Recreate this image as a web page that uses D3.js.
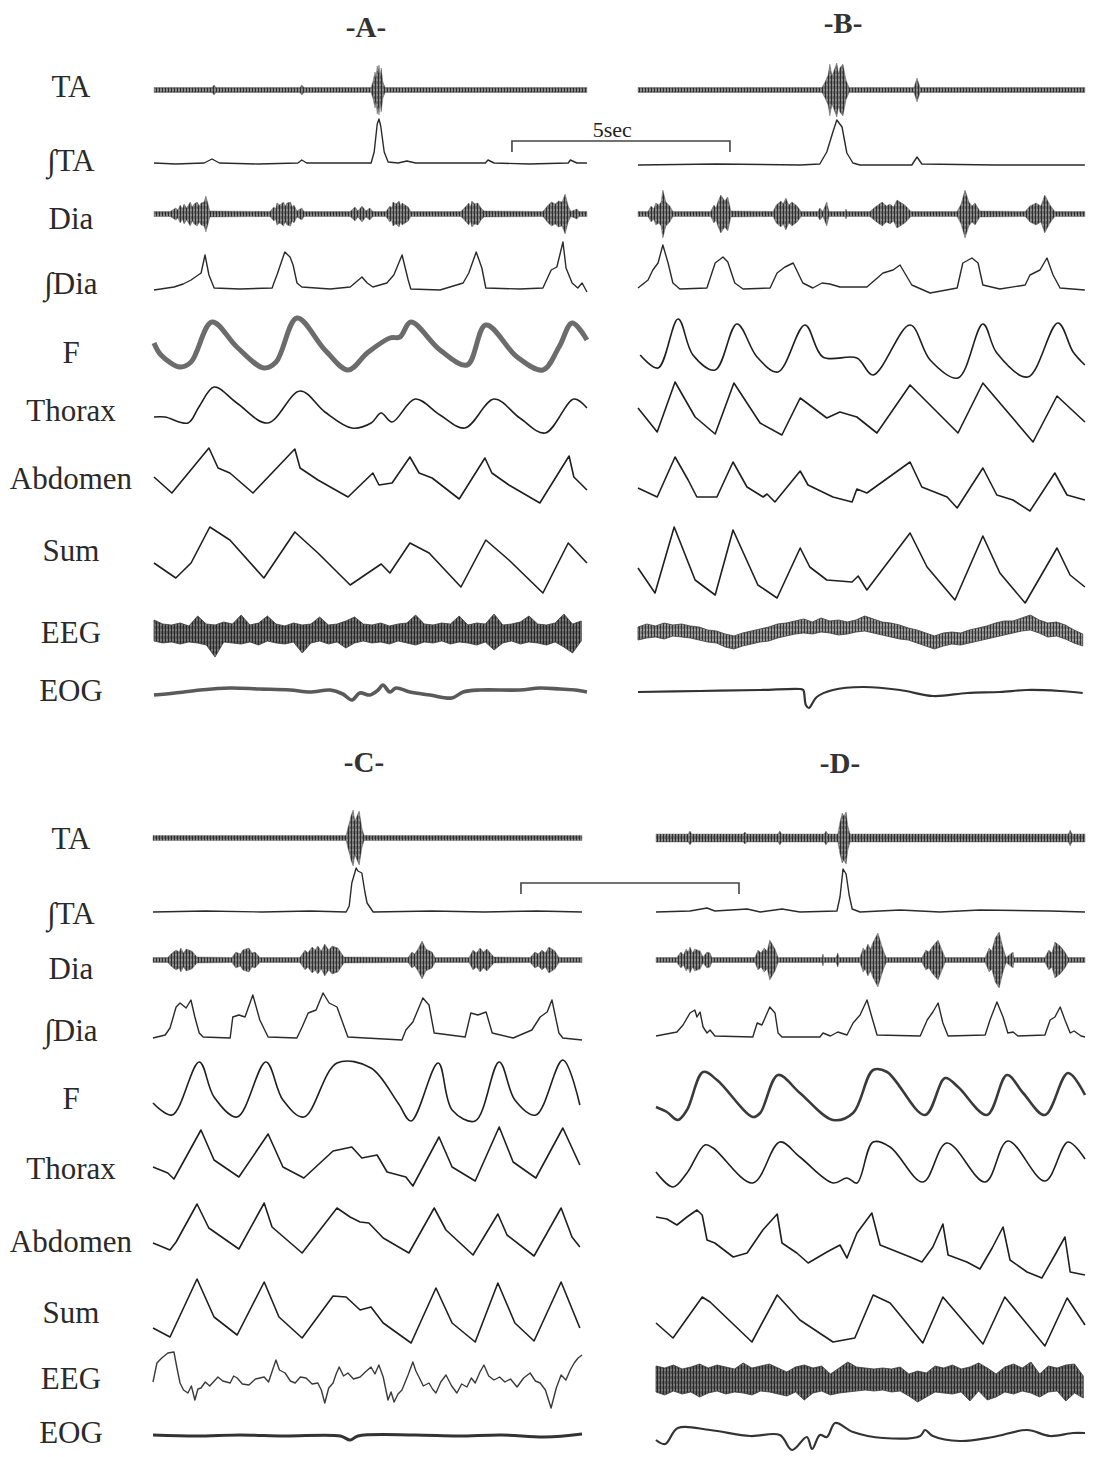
<!DOCTYPE html>
<html>
<head>
<meta charset="utf-8">
<script src="https://cdn.jsdelivr.net/npm/d3@7"></script>
<style>
  body { margin: 0; background: #fff; }
  text { font-family: "Liberation Serif", "Times New Roman", serif; fill: #222; }
</style>
</head>
<body>
<svg id="chart" width="1094" height="1457"></svg>
<script>
// trace names, shown left of panels A and C
const traceNames = ["TA", "∫TA", "Dia", "∫Dia", "F", "Thorax", "Abdomen", "Sum", "EEG", "EOG"];
const panelNames = ["A", "B", "C", "D"];
// recording length of each panel, seconds
const durations = [9.93, 10.25, 9.84, 9.84];
const scaleBarSec = 5;

// ---- panel A ---- raw EMG: [t (s), half amplitude]; others: [t (s), amplitude]
const taA = [[0,2.5],[1.33,2.5],[1.38,5],[1.42,2.5],[3.35,2.5],[3.39,5],[3.44,2.5],[4.98,2.5],[5.02,8],[5.07,18],[5.09,12],[5.12,24],[5.14,17],[5.16,25],[5.19,14],[5.21,22],[5.25,8],[5.3,2.5],[9.93,2.5]];
const itaA = [[0,1],[0.5,0],[1.15,1],[1.33,5],[1.5,1],[2.4,0],[3.3,1],[3.39,4],[3.5,1],[4.98,1],[5.05,12],[5.12,40],[5.16,45],[5.2,38],[5.28,12],[5.37,2],[5.6,1],[5.8,3],[6.0,1],[7.6,1],[7.66,4],[7.8,1],[8.6,0],[9.5,1],[9.55,4],[9.7,1],[9.93,1]];
const diaA = [[0,2.5],[0.37,2.5],[0.5,6],[0.55,4],[0.6,9],[0.65,5],[0.69,10],[0.75,6],[0.83,12],[0.88,7],[0.92,10],[0.99,12],[1.04,8],[1.08,11],[1.15,12],[1.19,18],[1.24,10],[1.28,3],[2.66,2.5],[2.75,7],[2.79,5],[2.82,11],[2.89,9],[2.97,12],[3.01,8],[3.05,11],[3.13,12],[3.17,7],[3.21,9],[3.28,3],[3.39,6],[3.44,2.5],[4.5,2.5],[4.61,7],[4.68,3],[4.77,8],[4.86,3],[4.95,6],[5.02,2.5],[5.32,2.5],[5.41,8],[5.45,6],[5.48,12],[5.55,10],[5.62,13],[5.66,8],[5.69,11],[5.83,7],[5.89,2.5],[7.04,2.5],[7.16,8],[7.22,11],[7.26,7],[7.29,13],[7.36,10],[7.43,11],[7.5,6],[7.57,3],[8.92,2.5],[9.04,9],[9.12,12],[9.2,10],[9.28,13],[9.36,12],[9.43,20],[9.5,8],[9.56,2.5],[9.7,5],[9.75,2.5],[9.93,2.5]];
const idiaA = [[0,0],[0.46,3],[0.67,6],[0.85,10],[1.08,17],[1.17,35],[1.26,15],[1.38,2],[1.97,1],[2.71,2],[2.75,7],[2.82,15],[3.0,38],[3.12,33],[3.19,25],[3.28,7],[3.39,3],[4.04,1],[4.5,3],[4.77,13],[4.89,7],[5.02,3],[5.18,5],[5.34,7],[5.5,15],[5.69,35],[5.83,10],[5.89,1],[6.56,0],[7.09,7],[7.22,17],[7.39,38],[7.52,22],[7.61,2],[8.39,1],[8.92,2],[9.11,20],[9.24,23],[9.38,48],[9.45,22],[9.59,7],[9.72,2],[9.82,7],[9.93,-2]];
const fA = [[0,27],[0.16,15],[0.6,3],[0.85,8],[1.33,48],[1.9,23],[2.52,2],[2.8,8],[3.28,52],[3.92,20],[4.45,0],[4.89,17],[5.41,32],[5.64,33],[5.89,48],[6.56,20],[7.18,5],[7.61,45],[8.33,13],[8.92,0],[9.29,23],[9.59,47],[9.93,30]];
const thoraxA = [[0,13],[0.25,13],[0.78,7],[1.03,23],[1.38,43],[1.9,27],[2.61,7],[3.35,39],[3.92,18],[4.54,2],[4.98,7],[5.21,17],[5.46,8],[5.99,31],[6.56,15],[7.13,2],[7.8,31],[8.39,12],[8.97,-3],[9.63,31],[9.93,22]];
const abdomenA = [[0,23],[0.41,7],[1.26,52],[1.47,32],[1.74,27],[2.27,7],[3.23,51],[3.35,32],[3.76,20],[4.45,3],[5.02,27],[5.16,15],[5.46,17],[5.87,43],[6.08,27],[6.38,22],[7.0,1],[7.59,42],[7.75,27],[8.14,15],[8.85,-3],[9.52,44],[9.63,23],[9.93,10]];
const sumA = [[0,27],[0.5,12],[0.85,27],[1.28,63],[1.74,50],[2.52,12],[3.23,58],[3.76,37],[4.5,5],[5.21,26],[5.41,17],[5.87,47],[6.31,37],[7.04,3],[7.61,50],[8.14,30],[8.92,-3],[9.5,47],[9.93,27]];
// EEG sampled every 0.2 s: [high, low]
const eegA = [[13,-8],[9,-10],[8,-9],[10,-11],[7,-9],[17,-10],[9,-12],[8,-24],[11,-9],[9,-10],
  [18,-11],[8,-9],[10,-12],[17,-8],[9,-10],[7,-11],[10,-9],[8,-20],[9,-10],[16,-8],
  [8,-11],[9,-9],[12,-15],[16,-10],[9,-8],[8,-10],[10,-9],[7,-11],[9,-8],[10,-10],
  [18,-12],[9,-9],[8,-10],[10,-8],[9,-11],[17,-9],[8,-10],[10,-12],[9,-9],[19,-17],
  [8,-10],[9,-8],[11,-11],[17,-9],[9,-10],[8,-12],[10,-9],[19,-14],[9,-20],[12,-8]];
const eogA = [[0,-5],[0.48,-3],[1.06,0],[1.74,2],[2.43,1],[3.12,0],[3.58,-2],[4.04,0],[4.33,-4],[4.54,-10],[4.72,-3],[4.95,-5],[5.14,0],[5.25,5],[5.41,-2],[5.55,2],[5.87,-2],[6.33,-5],[6.83,-8],[7.09,-2],[7.48,0],[8.39,0],[8.85,2],[9.31,1],[9.66,0],[9.93,-2]];

// ---- panel B ----
const taB = [[0,2.5],[4.22,2.5],[4.29,8],[4.36,15],[4.4,26],[4.45,14],[4.5,20],[4.56,27],[4.6,16],[4.63,22],[4.7,26],[4.77,10],[4.84,2.5],[6.33,2.5],[6.4,12],[6.47,2.5],[10.25,2.5]];
const itaB = [[0,-1],[1.8,0],[3.72,-1],[4.17,0],[4.33,12],[4.47,32],[4.56,44],[4.68,37],[4.79,11],[4.93,1],[5.09,-1],[6.28,-1],[6.4,7],[6.51,0],[8.2,-1],[10.25,-1]];
const diaB = [[0,2.5],[0.23,2.5],[0.3,8],[0.36,5],[0.41,11],[0.48,9],[0.53,12],[0.57,24],[0.64,12],[0.73,8],[0.8,2.5],[1.67,2.5],[1.74,9],[1.79,6],[1.83,12],[1.9,19],[1.99,13],[2.06,17],[2.13,3],[3.1,2.5],[3.17,9],[3.28,13],[3.33,10],[3.39,16],[3.46,9],[3.53,12],[3.65,8],[3.74,2.5],[4.13,2.5],[4.17,6],[4.24,2.5],[4.33,12],[4.38,2.5],[4.75,2.5],[4.77,5],[4.79,2.5],[5.32,2.5],[5.44,7],[5.6,12],[5.7,8],[5.78,10],[5.86,7],[5.94,14],[6.12,9],[6.26,2.5],[7.32,2.5],[7.41,10],[7.5,24],[7.59,12],[7.66,8],[7.73,11],[7.84,3],[8.88,2.5],[8.99,8],[9.13,11],[9.24,8],[9.33,19],[9.45,9],[9.56,2.5],[10.25,2.5]];
const idiaB = [[0,2],[0.23,10],[0.34,20],[0.46,27],[0.57,45],[0.69,27],[0.8,7],[0.96,1],[1.58,2],[1.77,27],[1.95,33],[2.06,28],[2.22,7],[2.41,1],[3.03,2],[3.19,17],[3.37,23],[3.56,27],[3.78,7],[4.01,2],[4.22,7],[4.4,6],[4.63,3],[5.25,3],[5.62,17],[5.85,20],[6.01,25],[6.28,5],[6.7,-3],[7.32,2],[7.45,27],[7.66,32],[7.8,27],[7.91,5],[8.3,1],[8.88,5],[8.99,15],[9.22,20],[9.38,32],[9.52,15],[9.68,2],[10.25,0]];
const fB = [[0.05,15],[0.46,2],[0.92,51],[1.26,15],[1.77,0],[2.27,46],[2.73,13],[3.21,-2],[3.83,45],[4.24,13],[5.02,12],[5.39,-5],[6.24,45],[6.7,10],[7.34,-8],[7.91,46],[8.23,17],[8.94,-7],[9.63,47],[9.98,18],[10.25,5]];
const thoraxB = [[0,22],[0.44,-2],[0.85,48],[1.31,13],[1.77,-4],[2.2,47],[2.8,7],[3.3,-5],[3.72,32],[4.33,12],[4.63,18],[5.02,13],[5.48,-3],[6.24,45],[7.34,-3],[7.91,47],[9.06,-12],[9.61,34],[10.25,8]];
const abdomenB = [[0,12],[0.44,3],[0.85,43],[1.15,20],[1.35,3],[1.81,3],[2.18,38],[2.5,13],[2.87,3],[2.96,6],[3.14,-2],[3.72,29],[3.9,15],[4.47,3],[4.91,-2],[5.02,11],[5.25,7],[6.24,38],[6.51,13],[7.09,3],[7.32,-8],[7.91,32],[8.23,5],[8.6,0],[8.99,-11],[9.56,27],[9.84,5],[10.25,0]];
const sumB = [[0,22],[0.39,-3],[0.83,63],[1.31,10],[1.77,-5],[2.18,60],[2.75,5],[3.19,-8],[3.72,42],[3.94,23],[4.33,10],[4.91,8],[5.05,14],[5.25,0],[6.24,57],[6.63,23],[7.27,-10],[7.91,54],[8.3,17],[8.88,-13],[9.61,42],[9.91,15],[10.25,3]];
const eegB = [[6,-7],[9,-5],[7,-4],[10,-6],[8,-3],[9,-4],[7,-5],[6,-7],[3,-9],[2,-10],
  [-1,-14],[-3,-16],[0,-13],[2,-11],[4,-9],[6,-8],[9,-5],[10,-3],[12,-1],[14,0],
  [11,-1],[15,1],[12,0],[13,-2],[11,-1],[13,1],[17,2],[14,0],[11,-2],[10,-4],
  [8,-6],[5,-7],[3,-10],[0,-13],[-3,-16],[0,-13],[1,-11],[0,-12],[3,-10],[5,-8],
  [7,-6],[10,-4],[12,-2],[12,0],[15,2],[18,3],[13,0],[10,-4],[11,-3],[8,-6],[3,-10],[-1,-13]];
const eogB = [[0,-2],[1.42,-1],[2.8,0],[3.72,1],[3.79,0],[3.85,-15],[3.92,-18],[4.1,-7],[4.47,0],[5.16,3],[6.01,0],[6.77,-6],[7.55,-3],[8.3,-2],[8.92,0],[9.68,-1],[10.2,-3]];

// ---- panel C ----
const taC = [[0,2.5],[4.43,2.5],[4.47,10],[4.52,18],[4.54,22],[4.59,28],[4.63,17],[4.66,20],[4.73,27],[4.79,10],[4.84,2.5],[9.84,2.5]];
const itaC = [[0,0],[1.2,1],[2.5,0],[3.6,1],[4.43,0],[4.5,6],[4.56,29],[4.66,44],[4.7,41],[4.79,39],[4.86,20],[4.91,9],[5.05,0],[6.4,1],[7.6,0],[8.8,1],[9.84,0]];
const diaC = [[0,2.5],[0.34,2.5],[0.41,6],[0.53,10],[0.6,8],[0.64,12],[0.7,7],[0.76,11],[0.89,9],[1.01,3],[1.81,2.5],[1.9,8],[2.0,6],[2.06,10],[2.2,12],[2.27,7],[2.34,8],[2.45,2.5],[3.37,2.5],[3.49,10],[3.55,7],[3.65,13],[3.72,10],[3.78,14],[3.86,9],[3.94,16],[4.03,10],[4.11,14],[4.24,12],[4.38,3],[5.85,2.5],[5.94,8],[6.0,6],[6.08,11],[6.17,19],[6.26,11],[6.4,8],[6.47,2.5],[7.25,2.5],[7.34,10],[7.42,7],[7.5,12],[7.58,8],[7.66,11],[7.82,3],[8.65,2.5],[8.76,8],[8.84,6],[8.92,10],[9.0,7],[9.08,13],[9.22,9],[9.31,2.5],[9.84,2.5]];
const idiaC = [[0,0],[0.28,3],[0.39,10],[0.53,31],[0.62,35],[0.76,30],[0.87,38],[0.96,21],[1.06,5],[1.15,1],[1.77,0],[1.83,21],[1.97,23],[2.11,21],[2.29,43],[2.45,18],[2.64,1],[3.3,0],[3.42,11],[3.56,25],[3.74,28],[3.9,45],[4.04,35],[4.22,31],[4.47,1],[5.71,-2],[5.8,8],[5.96,16],[6.19,40],[6.33,33],[6.45,5],[7.16,1],[7.29,25],[7.45,23],[7.64,26],[7.78,5],[8.26,0],[8.69,8],[8.88,21],[9.04,26],[9.15,38],[9.31,5],[9.4,0],[9.84,-2]];
const fC = [[0,17],[0.44,5],[1.06,58],[1.4,23],[1.93,3],[2.59,58],[2.98,20],[3.46,3],[4.22,57],[5.0,52],[5.62,17],[5.92,-1],[6.54,57],[6.86,10],[7.39,-1],[7.94,58],[8.3,20],[8.78,5],[9.4,60],[9.79,15]];
const thoraxC = [[0,13],[0.34,7],[0.48,1],[1.1,50],[1.4,20],[1.97,3],[2.64,46],[2.98,13],[3.46,2],[4.13,29],[4.56,33],[4.79,22],[5.14,25],[5.37,8],[5.8,3],[5.96,-6],[6.56,43],[6.86,13],[7.39,-1],[7.94,53],[8.26,18],[8.78,2],[9.4,52],[9.79,15]];
const abdomenC = [[0,12],[0.39,5],[0.53,13],[1.01,51],[1.28,27],[1.97,6],[2.55,52],[2.73,28],[3.42,2],[4.22,47],[4.52,38],[4.75,33],[4.95,32],[5.28,17],[5.87,2],[6.45,47],[6.72,25],[7.34,0],[7.91,41],[8.12,20],[8.74,-1],[9.36,47],[9.61,18],[9.79,8]];
const sumC = [[0,12],[0.39,3],[1.01,61],[1.4,23],[1.93,5],[2.55,58],[2.89,23],[3.42,2],[4.13,44],[4.43,43],[4.75,30],[5.0,33],[5.28,17],[5.92,-3],[6.49,52],[6.86,17],[7.39,-2],[7.91,57],[8.3,17],[8.74,-1],[9.36,58],[9.79,12]];
const eegC = [[0,-2],[0.09,17],[0.2,22],[0.34,27],[0.48,28],[0.55,12],[0.62,-3],[0.7,-10],[0.8,-13],[0.88,-6],[0.96,-20],[1.03,-9],[1.1,-8],[1.2,-2],[1.3,-6],[1.49,3],[1.6,-1],[1.77,-3],[1.85,4],[1.93,2],[2.05,-4],[2.2,-5],[2.35,1],[2.55,3],[2.65,-2],[2.82,20],[2.9,10],[3.03,7],[3.15,-1],[3.26,-3],[3.38,3],[3.51,2],[3.65,-4],[3.78,-3],[3.86,-10],[3.94,-23],[4.03,-8],[4.13,-3],[4.2,6],[4.27,13],[4.37,4],[4.47,7],[4.6,1],[4.75,3],[4.87,8],[5.0,13],[5.09,6],[5.18,15],[5.28,3],[5.39,-20],[5.46,-12],[5.53,-22],[5.62,-14],[5.71,-10],[5.85,5],[5.96,18],[6.03,9],[6.1,3],[6.2,-6],[6.33,-3],[6.41,-9],[6.49,-13],[6.6,-2],[6.72,5],[6.85,-6],[6.97,-13],[7.08,-4],[7.2,-7],[7.3,2],[7.39,-3],[7.5,8],[7.59,15],[7.7,4],[7.82,0],[7.95,3],[8.07,-2],[8.2,1],[8.35,-7],[8.5,2],[8.65,7],[8.77,-1],[8.88,-3],[9.0,-10],[9.13,-28],[9.25,-8],[9.36,5],[9.47,0],[9.57,10],[9.66,17],[9.75,22],[9.84,25]];
const eogC = [[0,1],[1.0,0],[2.0,1],[3.0,0],[4.3,0],[4.52,-4],[4.7,0],[6.0,1],[7.0,0],[8.0,1],[9.0,-1],[9.84,2]];

// ---- panel D ----
const taD = [[0,4],[0.74,4],[0.78,7],[0.82,4],[2.0,4],[2.04,6],[2.08,4],[2.8,4],[2.84,7],[2.88,4],[3.86,4],[3.9,7],[3.94,4],[4.17,4],[4.22,16],[4.27,25],[4.31,22],[4.36,26],[4.4,12],[4.45,4],[9.46,4],[9.5,8],[9.54,4],[9.84,4]];
const itaD = [[0,0],[0.78,1],[1.17,4],[1.35,1],[2.09,3],[2.39,0],[2.89,3],[3.3,0],[4.15,1],[4.22,15],[4.29,43],[4.36,38],[4.43,17],[4.5,3],[4.68,0],[5.6,2],[6.51,0],[7.43,2],[9.04,1],[9.84,0]];
const diaD = [[0,2.5],[0.48,2.5],[0.57,8],[0.63,5],[0.69,11],[0.74,8],[0.78,13],[0.84,7],[0.89,11],[1.01,9],[1.08,3],[1.17,8],[1.24,7],[1.28,2.5],[2.27,2.5],[2.34,10],[2.41,7],[2.48,12],[2.55,9],[2.61,20],[2.73,11],[2.8,2.5],[3.81,2.5],[3.83,6],[3.85,2.5],[4.13,2.5],[4.17,7],[4.2,2.5],[4.68,2.5],[4.75,12],[4.8,9],[4.86,16],[4.92,11],[4.98,18],[5.09,27],[5.21,10],[5.28,2.5],[6.1,2.5],[6.19,10],[6.26,8],[6.33,13],[6.47,20],[6.56,10],[6.63,2.5],[7.55,2.5],[7.64,12],[7.7,9],[7.78,22],[7.87,28],[7.96,12],[8.03,2.5],[8.19,8],[8.21,2.5],[8.92,2.5],[9.01,10],[9.08,7],[9.15,18],[9.27,14],[9.38,8],[9.45,2.5],[9.84,2.5]];
const idiaD = [[0,2],[0.48,6],[0.62,13],[0.78,25],[0.89,28],[0.94,21],[1.01,26],[1.08,11],[1.17,5],[1.24,8],[1.35,2],[2.22,1],[2.32,15],[2.43,13],[2.61,31],[2.73,25],[2.8,5],[2.89,1],[3.76,1],[3.83,5],[4.0,2],[4.17,6],[4.38,3],[4.52,15],[4.68,23],[4.84,38],[4.95,21],[5.07,3],[6.06,2],[6.22,18],[6.35,26],[6.47,35],[6.58,15],[6.7,2],[7.55,3],[7.66,18],[7.82,36],[7.96,21],[8.07,5],[8.19,6],[8.3,2],[8.92,3],[9.04,18],[9.15,21],[9.27,31],[9.38,18],[9.5,5],[9.59,7],[9.75,2],[9.84,1]];
const fD = [[0,13],[0.25,8],[0.5,0],[0.71,10],[1.08,48],[1.4,40],[2.22,3],[2.39,7],[2.8,45],[3.3,27],[4.06,0],[4.52,7],[4.98,50],[5.3,48],[6.17,5],[6.63,42],[6.93,33],[7.59,5],[8.05,45],[8.42,27],[8.92,5],[9.45,47],[9.84,25]];
const thoraxD = [[0,8],[0.39,-7],[0.71,7],[1.12,35],[1.31,32],[2.22,-3],[2.84,38],[3.3,23],[4.06,-3],[4.38,2],[4.61,-3],[4.98,38],[5.37,33],[6.12,-2],[6.67,37],[7.55,-2],[8.07,39],[8.92,-1],[9.45,38],[9.84,21]];
const abdomenD = [[0,38],[0.25,36],[0.48,30],[0.71,38],[0.94,45],[1.06,40],[1.17,15],[1.35,12],[1.77,-2],[2.09,2],[2.45,25],[2.78,41],[2.89,12],[3.23,2],[3.49,-8],[3.92,3],[4.22,10],[4.38,-3],[4.61,22],[4.95,42],[5.14,10],[5.83,-2],[6.1,-7],[6.35,8],[6.58,31],[6.7,0],[7.13,-7],[7.43,-14],[7.71,7],[7.96,28],[8.12,-5],[8.51,-17],[8.85,-23],[9.15,0],[9.38,18],[9.5,-17],[9.84,-20]];
const sumD = [[0,17],[0.39,2],[1.06,43],[1.24,38],[2.2,-2],[2.78,45],[3.3,20],[4.06,-2],[4.56,2],[4.98,45],[5.37,37],[6.12,-3],[6.58,43],[7.5,-4],[8.0,43],[8.92,-6],[9.43,42],[9.84,15]];
const eegD = [[14,-12],[12,-15],[15,-11],[11,-14],[13,-12],[16,-17],[12,-13],[15,-11],[13,-14],[11,-12],
  [17,-13],[12,-15],[14,-11],[16,-12],[12,-14],[8,-16],[13,-12],[15,-20],[12,-13],[14,-11],
  [6,-15],[12,-13],[18,-12],[13,-11],[12,-10],[11,-11],[12,-10],[11,-12],[13,-11],[6,-16],
  [9,-22],[7,-17],[14,-12],[12,-13],[15,-14],[11,-12],[13,-21],[17,-11],[12,-20],[6,-17],
  [13,-12],[16,-14],[12,-11],[18,-13],[6,-17],[14,-12],[12,-11],[15,-21],[16,-13],[4,-18]];
const eogD = [[0,-4],[0.21,-8],[0.5,8],[1.24,6],[2.16,0],[2.84,1],[3.12,-14],[3.46,-1],[3.58,-13],[3.76,1],[3.92,-1],[4.11,13],[4.52,4],[5.21,-2],[6.06,0],[6.17,6],[6.35,0],[6.97,-5],[7.73,-1],[8.51,6],[9.04,0],[9.56,3],[9.84,3]];

const eegStep = 0.2;   // seconds between EEG samples
const scaleBarStart = [8.21, 8.44];  // seconds, in panel A and panel C time

// ---- layout ----
const pxPerSec = 43.6;
const panelX0 = [154, 638, 153, 656];
const rowBase = [
  [90, 164, 214, 290, 370, 430, 500, 590, 633, 690],
  [838, 912, 960, 1038, 1120, 1180, 1255, 1340, 1380, 1436]
];
const labelY = [
  [86, 160, 218, 283, 352, 410, 478, 550, 632, 690],
  [838, 913, 968, 1030, 1098, 1168, 1241, 1312, 1378, 1432]
];
const titlePos = [[366, 37], [843, 33], [364, 772], [840, 773]];

const traces = [
  [taA, itaA, diaA, idiaA, fA, thoraxA, abdomenA, sumA, eegA, eogA],
  [taB, itaB, diaB, idiaB, fB, thoraxB, abdomenB, sumB, eegB, eogB],
  [taC, itaC, diaC, idiaC, fC, thoraxC, abdomenC, sumC, eegC, eogC],
  [taD, itaD, diaD, idiaD, fD, thoraxD, abdomenD, sumD, eegD, eogD]
];

const svg = d3.select("#chart");
const ink = "#1f1f1f";
const serif = "'Liberation Serif', 'Times New Roman', serif";

// dense vertical strokes, the look of a fast signal printed small
const defs = svg.append("defs");
const hatch = (id, bg, fg, fg2) => {
  const pat = defs.append("pattern").attr("id", id)
    .attr("width", 3).attr("height", 5).attr("patternUnits", "userSpaceOnUse");
  pat.append("rect").attr("width", 3).attr("height", 5).attr("fill", bg);
  pat.append("rect").attr("width", 1).attr("height", 5).attr("fill", fg);
  pat.append("rect").attr("x", 1.7).attr("y", 1).attr("width", 0.9).attr("height", 3).attr("fill", fg2);
};
hatch("emg", "#8c8c8c", "#2c2c2c", "#4a4a4a");
hatch("eegDense", "#787878", "#262626", "#3c3c3c");
hatch("eegLight", "#9c9c9c", "#333", "#555");

const xScales = panelNames.map((n, i) =>
  d3.scaleLinear().domain([0, durations[i]]).range([panelX0[i], panelX0[i] + durations[i] * pxPerSec]));

panelNames.forEach((name, p) => {
  const half = p < 2 ? 0 : 1;
  const x = xScales[p];
  const g = svg.append("g").attr("class", "panel-" + name);

  g.append("text")
    .attr("x", titlePos[p][0]).attr("y", titlePos[p][1])
    .attr("text-anchor", "middle")
    .attr("font-family", serif)
    .style("font-size", "29px").style("font-weight", "bold").style("fill", "#333")
    .text("-" + name + "-");

  traceNames.forEach((tn, r) => {
    const base = rowBase[half][r];
    const y = d3.scaleLinear().domain([0, 10]).range([base, base - 10]);
    const data = traces[p][r];
    const row = g.append("g");

    if (tn === "TA" || tn === "Dia") {
      // raw EMG drawn as its envelope band
      const area = d3.area().x(d => x(d[0])).y0(d => y(-d[1])).y1(d => y(d[1]));
      row.append("path").datum(data).attr("d", area)
        .attr("fill", "url(#emg)").attr("stroke", "#555").attr("stroke-width", 0.4);
    } else if (tn === "EEG" && name !== "C") {
      const area = d3.area().x((d, i) => x(i * eegStep)).y0(d => y(d[1])).y1(d => y(d[0]));
      row.append("path").datum(data).attr("d", area)
        .attr("fill", name === "B" ? "url(#eegLight)" : "url(#eegDense)")
        .attr("stroke", "#3a3a3a").attr("stroke-width", 0.8);
    } else {
      let width = 1.6, color = ink, curve = d3.curveLinear;
      if (tn === "F") {
        curve = d3.curveCatmullRom;
        if (name === "A") { width = 5; color = "#6c6c6c"; }
        else if (name === "D") { width = 2.6; color = "#3a3a3a"; }
      }
      if (tn === "Thorax" && (name === "A" || name === "D")) curve = d3.curveCatmullRom.alpha(0.5);
      if (tn === "∫TA" || tn === "∫Dia") { width = 1.4; color = "#2a2a2a"; }
      if (tn === "EOG") {
        curve = d3.curveCatmullRom;
        width = name === "A" ? 3.6 : (name === "C" ? 3 : 2.2);
        color = name === "A" ? "#5a5a5a" : "#333";
      }
      if (tn === "EEG") { width = 1.4; color = "#3a3a3a"; }
      row.append("path").datum(data)
        .attr("d", d3.line().x(d => x(d[0])).y(d => y(d[1])).curve(curve))
        .attr("fill", "none").attr("stroke", color).attr("stroke-width", width)
        .attr("stroke-linejoin", "round");
    }

    if (name === "A" || name === "C") {
      svg.append("text")
        .attr("x", 71).attr("y", labelY[half][r]).attr("dy", "0.35em")
        .attr("text-anchor", "middle")
        .attr("font-family", serif)
        .style("font-size", "31px").style("fill", "#2a2a2a")
        .text(tn);
    }
  });
});

// 5 s calibration bars, drawn on the time scale of panels A and C
[0, 2].forEach((p, k) => {
  const x = xScales[p];
  const yb = k === 0 ? 141 : 883;
  const x1 = x(scaleBarStart[k]), x2 = x(scaleBarStart[k] + scaleBarSec);
  svg.append("path")
    .attr("d", `M${x1},${yb + 11}V${yb}H${x2}V${yb + 11}`)
    .attr("fill", "none").attr("stroke", "#444").attr("stroke-width", 1.6);
  if (k === 0) {
    svg.append("text")
      .attr("x", x(scaleBarStart[k] + 2.3)).attr("y", yb - 4)
      .attr("text-anchor", "middle")
      .attr("font-family", serif)
      .style("font-size", "22px")
      .text(scaleBarSec + "sec");
  }
});
</script>
</body>
</html>
